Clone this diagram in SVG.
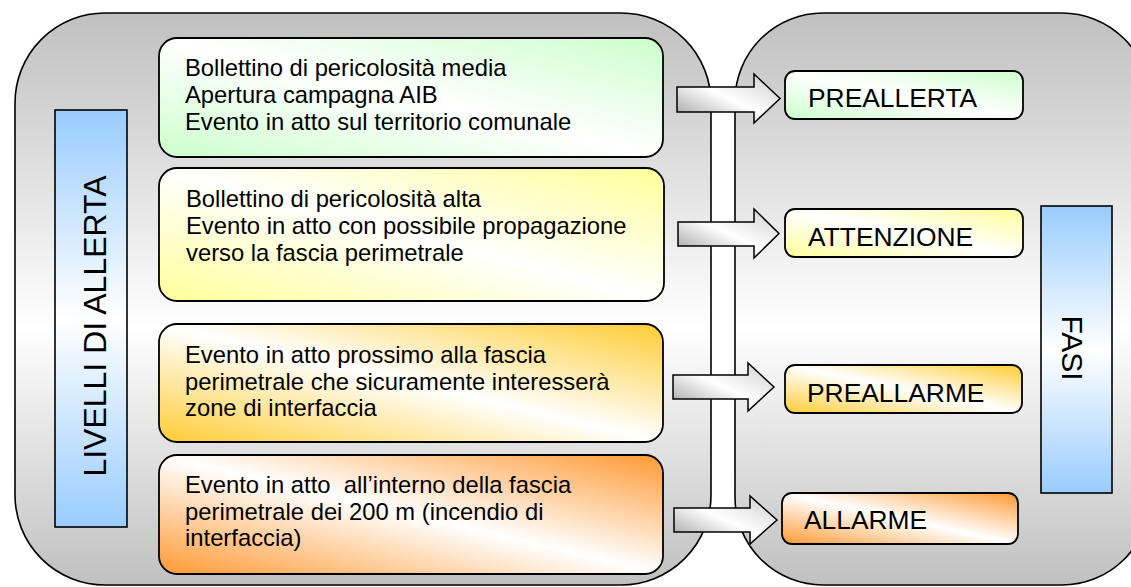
<svg xmlns="http://www.w3.org/2000/svg" width="1131" height="587" viewBox="0 0 1131 587">
<style>
.panel{stroke:#000;stroke-width:1.6;fill:url(#gPanel)}
.bar{stroke:#000;stroke-width:1.6;fill:url(#gBlue)}
.box{stroke:#000;stroke-width:1.8}
.arr{stroke:#000;stroke-width:1.5;fill:url(#gArrow);stroke-linejoin:miter}
text{font-family:"Liberation Sans",Arial,sans-serif;fill:#000}
.t{font-size:23.8px;white-space:pre}
.p{font-size:26.4px}
.big{font-size:32px}
.fasi{font-size:30px}
</style>
<defs>
<linearGradient id="gPanel" x1="0" y1="0" x2="0" y2="1">
<stop offset="0" stop-color="#c0c0c0"/>
<stop offset="0.55" stop-color="#ffffff"/>
<stop offset="1" stop-color="#c0c0c0"/>
</linearGradient>
<linearGradient id="gBlue" x1="0" y1="0" x2="0" y2="1">
<stop offset="0" stop-color="#99ccff"/>
<stop offset="0.5" stop-color="#ffffff"/>
<stop offset="1" stop-color="#99ccff"/>
</linearGradient>
<linearGradient id="gGreen" x1="0" y1="1" x2="1" y2="0">
<stop offset="0" stop-color="#ccffcc"/>
<stop offset="0.5" stop-color="#ffffff"/>
<stop offset="1" stop-color="#ccffcc"/>
</linearGradient>
<linearGradient id="gYellow" x1="0" y1="1" x2="1" y2="0">
<stop offset="0" stop-color="#ffff99"/>
<stop offset="0.5" stop-color="#ffffff"/>
<stop offset="1" stop-color="#ffff99"/>
</linearGradient>
<linearGradient id="gGold" x1="0" y1="1" x2="1" y2="0">
<stop offset="0" stop-color="#ffcc33"/>
<stop offset="0.5" stop-color="#ffffff"/>
<stop offset="1" stop-color="#ffcc33"/>
</linearGradient>
<linearGradient id="gOrange" x1="0" y1="1" x2="1" y2="0">
<stop offset="0" stop-color="#ff9933"/>
<stop offset="0.5" stop-color="#ffffff"/>
<stop offset="1" stop-color="#ff9933"/>
</linearGradient>
<linearGradient id="gArrow" x1="0" y1="1" x2="1" y2="0">
<stop offset="0" stop-color="#9a9a9a"/>
<stop offset="0.5" stop-color="#ffffff"/>
<stop offset="1" stop-color="#cccccc"/>
</linearGradient>
</defs>

<g id="panel-livelli">
<rect class="panel" x="15" y="13" width="696" height="572" rx="90" ry="90"/>
</g>
<g id="panel-fasi">
<rect class="panel" x="735" y="13" width="415" height="572" rx="88" ry="88"/>
</g>

<g id="bar-livelli">
<rect class="bar" x="55" y="110" width="72" height="417"/>
<text class="big" text-anchor="middle" transform="translate(106,326) rotate(-90)">LIVELLI DI ALLERTA</text>
</g>
<g id="bar-fasi">
<rect class="bar" x="1041" y="206" width="71" height="287"/>
<text class="fasi" text-anchor="middle" transform="translate(1062,348) rotate(90)">FASI</text>
</g>

<g id="livello-1">
<rect class="box" x="159" y="38" width="504" height="119" rx="18" ry="18" fill="url(#gGreen)"/>
<text class="t" x="185" y="76">Bollettino di pericolosità media</text>
<text class="t" x="185" y="103">Apertura campagna AIB</text>
<text class="t" x="185" y="130">Evento in atto sul territorio comunale</text>
</g>
<g id="livello-2">
<rect class="box" x="159" y="168" width="505" height="133" rx="18" ry="18" fill="url(#gYellow)"/>
<text class="t" x="186" y="206.5">Bollettino di pericolosità alta</text>
<text class="t" x="186" y="233.5">Evento in atto con possibile propagazione</text>
<text class="t" x="186" y="260.5">verso la fascia perimetrale</text>
</g>
<g id="livello-3">
<rect class="box" x="159" y="324" width="504" height="118" rx="18" ry="18" fill="url(#gGold)"/>
<text class="t" x="185" y="362.5">Evento in atto prossimo alla fascia</text>
<text class="t" x="185" y="389.5">perimetrale che sicuramente interesserà</text>
<text class="t" x="185" y="416">zone di interfaccia</text>
</g>
<g id="livello-4">
<rect class="box" x="159" y="455" width="504" height="119" rx="18" ry="18" fill="url(#gOrange)"/>
<text class="t" x="185" y="493">Evento in atto  all’interno della fascia</text>
<text class="t" x="185" y="519.5">perimetrale dei 200 m (incendio di</text>
<text class="t" x="185" y="546">interfaccia)</text>
</g>

<g id="fase-preallerta">
<rect class="box" x="785" y="71" width="238" height="48" rx="10" ry="10" fill="url(#gGreen)"/>
<text class="p" x="808" y="107">PREALLERTA</text>
</g>
<g id="fase-attenzione">
<rect class="box" x="785" y="209" width="238" height="48" rx="10" ry="10" fill="url(#gYellow)"/>
<text class="p" x="808" y="246">ATTENZIONE</text>
</g>
<g id="fase-preallarme">
<rect class="box" x="785" y="365" width="237" height="48" rx="10" ry="10" fill="url(#gGold)"/>
<text class="p" x="807" y="402">PREALLARME</text>
</g>
<g id="fase-allarme">
<rect class="box" x="782" y="493" width="236" height="51" rx="10" ry="10" fill="url(#gOrange)"/>
<text class="p" x="804" y="529">ALLARME</text>
</g>

<g id="connectors">
<path class="arr" d="M677,87 L754,87 L754,74 L780,98.5 L754,123 L754,112 L677,112 Z"/>
<path class="arr" d="M678,222 L754,222 L754,209 L779,233.5 L754,258 L754,246 L678,246 Z"/>
<path class="arr" d="M673,375 L748,375 L748,363 L774,387 L748,411 L748,399 L673,399 Z"/>
<path class="arr" d="M674,508 L750,508 L750,496 L777,520 L750,544 L750,532 L674,532 Z"/>
</g>
</svg>
